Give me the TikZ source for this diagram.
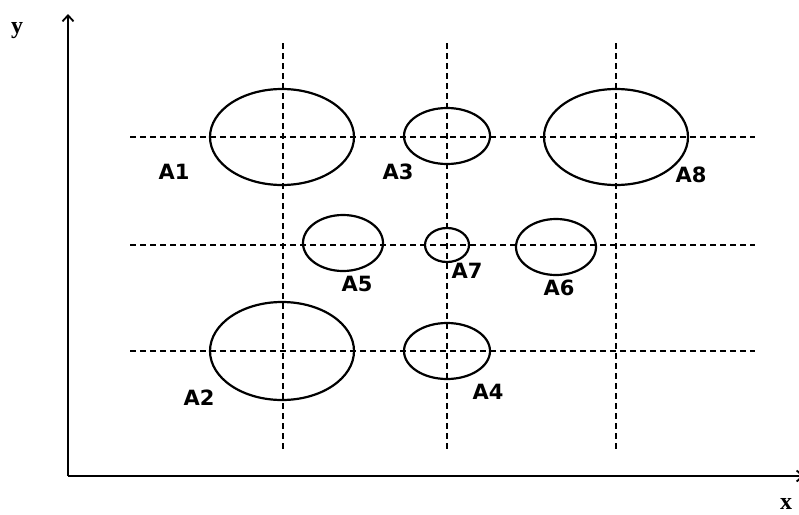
\documentclass[tikz,border=0pt]{standalone}
\usepackage{fontspec}
\newfontfamily\lblfont{DejaVu Sans}
\newfontfamily\axfont{Liberation Serif}
\usetikzlibrary{arrows.meta}
\begin{document}
\begin{tikzpicture}[x=1pt,y=-1pt,
  grid/.style={dashed, dash pattern=on 6pt off 4pt, line width=1.6pt},
  blob/.style={draw, line width=2.2pt},
  lbl/.style={font=\lblfont\bfseries\fontsize{21}{21}\selectfont, inner sep=0pt},
  axl/.style={font=\axfont\bfseries\fontsize{24}{24}\selectfont, inner sep=0pt},
  axis/.style={line width=1.8pt}]
\useasboundingbox (0,0) rectangle (799,514);
% axes
\coordinate (O) at (68,476);
\coordinate (Ytop) at (68,14);
\coordinate (Xend) at (804,476);
\draw[axis,-{Straight Barb[length=6pt,width=11pt]}] (O) -- (Ytop);
\draw[axis,-{Straight Barb[length=6pt,width=11pt]}] (O) -- (Xend);
\node[axl] (ylab) at (17,31) {y};
\node[axl] (xlab) at (786,504) {x};
% grid
\foreach \xx/\nm in {283/v1,447/v2,616/v3}{
  \coordinate (\nm a) at (\xx,43); \coordinate (\nm b) at (\xx,452);
  \draw[grid] (\nm a) -- (\nm b);}
\foreach \yy/\nm in {137/h1,245/h2,351/h3}{
  \coordinate (\nm a) at (130,\yy); \coordinate (\nm b) at (755,\yy);
  \draw[grid] (\nm a) -- (\nm b);}
% ellipses
\draw[blob] (282,137) ellipse [x radius=72, y radius=48];
\draw[blob] (447,136) ellipse [x radius=43, y radius=28];
\draw[blob] (616,137) ellipse [x radius=72, y radius=48];
\draw[blob] (343,243) ellipse [x radius=40, y radius=28];
\draw[blob] (447,245) ellipse [x radius=22, y radius=17];
\draw[blob] (556,247) ellipse [x radius=40, y radius=28];
\draw[blob] (282,351) ellipse [x radius=72, y radius=49];
\draw[blob] (447,351) ellipse [x radius=43, y radius=28];
% labels
\node[lbl] (A1) at (174,172) {A1};
\node[lbl] (A3) at (398,172) {A3};
\node[lbl] (A8) at (691,175) {A8};
\node[lbl] (A5) at (357,284) {A5};
\node[lbl] (A7) at (467,271) {A7};
\node[lbl] (A6) at (559,288) {A6};
\node[lbl] (A2) at (199,398) {A2};
\node[lbl] (A4) at (488,392) {A4};
\end{tikzpicture}
\end{document}
